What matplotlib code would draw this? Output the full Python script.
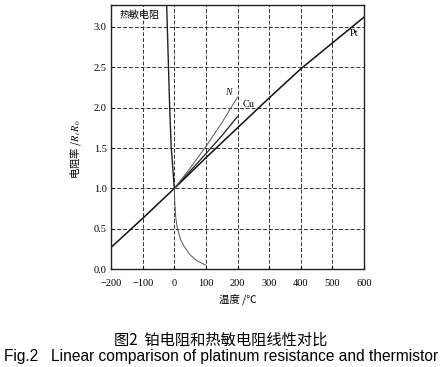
import matplotlib
matplotlib.use("Agg")
import matplotlib.pyplot as plt

plt.rcParams['font.family'] = ['Liberation Serif', 'Noto Sans CJK SC', 'DejaVu Sans']
plt.rcParams['mathtext.fontset'] = 'stix'

# values
pt_t = [-200, -100, 0, 100, 200, 300, 400, 500, 600]
pt_r = [0.27, 0.63, 1.0, 1.38, 1.75, 2.12, 2.48, 2.80, 3.12]

cu_t = [0, 50, 100, 150, 200]
cu_r = [1.0, 1.215, 1.43, 1.65, 1.89]

ni_t = [0, 50, 100, 150, 200]
ni_r = [1.0, 1.25, 1.52, 1.81, 2.13]

# thermistor, upper branch (below 0 C) and lower branch (above 0 C)
th_up_t = [-24, -22, -14.5, -9.5, -4.5, 0]
th_up_r = [3.27, 3.0, 2.0, 1.5, 1.25, 1.0]
th_lo_t = [0, 2, 5, 10, 20, 30, 50, 70, 100]
th_lo_r = [1.0, 0.80, 0.63, 0.50, 0.37, 0.29, 0.18, 0.11, 0.05]

xticks = [-200, -100, 0, 100, 200, 300, 400, 500, 600]
xticklabels = ['\u2212200', '\u2212100', '0', '100', '200', '300', '400', '500', '600']
yticks = [0.0, 0.5, 1.0, 1.5, 2.0, 2.5, 3.0]

fig = plt.figure(figsize=(4.43, 3.67), dpi=100)
ax = fig.add_axes([0.2506, 0.2662, 0.5711, 0.7202])

ax.plot(pt_t, pt_r, color='#111111', lw=1.1)
ax.plot(cu_t, cu_r, color='#222222', lw=0.9)
ax.plot(ni_t, ni_r, color='#555555', lw=0.7)
ax.plot(th_up_t, th_up_r, color='#222222', lw=1.0)
ax.plot(th_lo_t, th_lo_r, color='#555555', lw=0.7)

ax.set_xlim(-200, 600)
ax.set_ylim(0, 3.27)
ax.set_xticks(xticks)
ax.set_xticklabels(xticklabels)
ax.set_yticks(yticks)
ax.set_yticklabels(['%.1f' % v for v in yticks])
ax.tick_params(direction='in', length=2, width=0.8, labelsize=7.5, pad=3)
ax.tick_params(axis='x', pad=7)

ax.grid(True, linestyle=(0, (4, 2)), color='#333333', lw=0.7)
for s in ax.spines.values():
    s.set_linewidth(1.0)
    s.set_color('#222222')

ax.text(-172, 3.15, '热敏电阻', family=['Noto Sans CJK SC'], fontsize=7.2,
        ha='left', va='center')
ax.text(570, 2.92, 'Pt', fontsize=7.5, ha='center', va='center')
ax.text(235, 2.04, 'Cu', fontsize=7.5, ha='center', va='center')
ax.text(172, 2.19, 'N', fontsize=7, style='italic', ha='center', va='center')

ax.set_ylabel('电阻率 /$R_t\\,R_0$', family=['Noto Sans CJK SC'], fontsize=7.5)
ax.yaxis.set_label_coords(-0.11, 0.455)
ax.set_xlabel('温度 /℃', family=['Noto Sans CJK SC'], fontsize=7.5, labelpad=5)

fig.text(0.499, 0.073, '图2  铂电阻和热敏电阻线性对比', family=['Noto Sans CJK SC'],
         fontsize=11, ha='center', va='center')
fig.text(0.500, 0.028, 'Fig.2   Linear comparison of platinum resistance and thermistor',
         family=['Liberation Sans'], fontsize=11.2, ha='center', va='center')

fig.savefig('out.png', dpi=100)
